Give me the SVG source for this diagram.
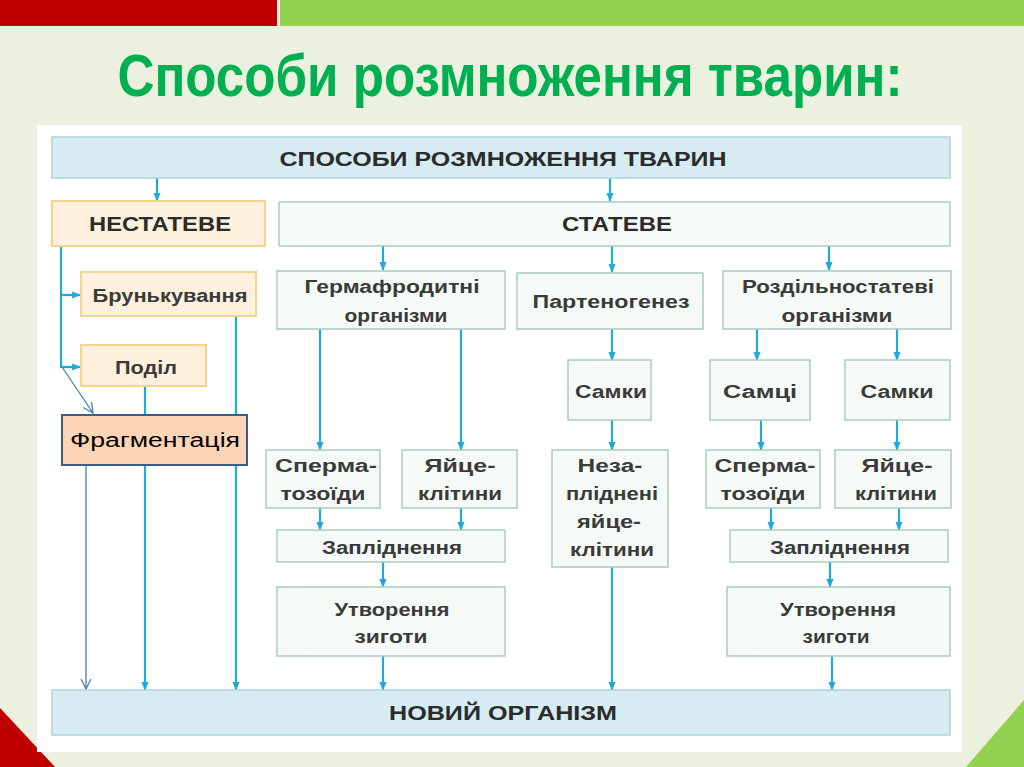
<svg xmlns="http://www.w3.org/2000/svg" width="1024" height="767" viewBox="0 0 1024 767">
<defs>
<marker id="ah" viewBox="0 0 10 10" refX="9" refY="5" markerWidth="4" markerHeight="4" orient="auto" markerUnits="strokeWidth">
<path d="M0,1 L10,5 L0,9 z" fill="#1fa9dc"/>
</marker>
<marker id="oa" viewBox="0 0 12 12" refX="11" refY="6" markerWidth="12" markerHeight="12" orient="auto" markerUnits="userSpaceOnUse">
<path d="M1,1 L11,6 L1,11" fill="none" stroke="#4a7ebb" stroke-width="1.3"/>
</marker>
<style>
.bl{fill:#d6ebf2;stroke:#aed3dd;stroke-width:1.5}
.pe{fill:#fdf1dd;stroke:#f4d38c;stroke-width:2}
.gr{fill:#f5faf6;stroke:#a9cbbd;stroke-width:1.5}
.t{font-family:"Liberation Sans",Arial,sans-serif;font-weight:bold;font-size:18px;fill:#3a3a3a;text-anchor:middle}
.h{font-family:"Liberation Sans",Arial,sans-serif;font-weight:bold;font-size:20px;fill:#2b2b2b;text-anchor:middle}
.c{stroke:#1fa9dc;stroke-width:2.2;fill:none;marker-end:url(#ah)}
.c0{stroke:#1fa9dc;stroke-width:2.2;fill:none}
.tc{stroke:#4a7ebb;stroke-width:1.3;fill:none;marker-end:url(#oa)}
</style>
</defs>
<rect x="0" y="0" width="1024" height="767" fill="#ebf1de"/>
<rect x="0" y="0" width="277" height="26" fill="#c00000"/>
<rect x="280" y="0" width="744" height="26" fill="#92d050"/>
<polygon points="0,708 0,767 55,767" fill="#c00000"/>
<polygon points="966,767 1024,700 1024,767" fill="#92d050"/>
<text x="510" y="96" font-family="'Liberation Sans',Arial,sans-serif" font-weight="bold" font-size="60" fill="#00b050" text-anchor="middle" textLength="785" lengthAdjust="spacingAndGlyphs">Способи розмноження тварин:</text>
<rect x="37" y="125" width="925" height="627" fill="#ffffff"/>

<g id="connectors">
<line class="c" x1="157" y1="178" x2="157" y2="201"/>
<line class="c" x1="610" y1="178" x2="610" y2="201"/>
<line class="c0" x1="61" y1="246" x2="61" y2="368"/>
<line class="c" x1="61" y1="295" x2="80" y2="295"/>
<line class="c" x1="61" y1="367" x2="80" y2="367"/>
<line class="tc" x1="62" y1="367" x2="93" y2="413"/>
<line class="tc" x1="86" y1="465" x2="86" y2="689"/>
<line class="c" x1="145" y1="386" x2="145" y2="690"/>
<line class="c" x1="236" y1="316" x2="236" y2="690"/>
<line class="c" x1="383" y1="246" x2="383" y2="270"/>
<line class="c" x1="612" y1="246" x2="612" y2="272"/>
<line class="c" x1="829" y1="246" x2="829" y2="270"/>
<line class="c" x1="320" y1="329" x2="320" y2="450"/>
<line class="c" x1="461" y1="329" x2="461" y2="450"/>
<line class="c" x1="320" y1="508" x2="320" y2="530"/>
<line class="c" x1="461" y1="508" x2="461" y2="530"/>
<line class="c" x1="383" y1="562" x2="383" y2="587"/>
<line class="c" x1="383" y1="656" x2="383" y2="690"/>
<line class="c" x1="612" y1="329" x2="612" y2="360"/>
<line class="c" x1="612" y1="420" x2="612" y2="450"/>
<line class="c" x1="612" y1="567" x2="612" y2="690"/>
<line class="c" x1="757" y1="329" x2="757" y2="360"/>
<line class="c" x1="897" y1="329" x2="897" y2="360"/>
<line class="c" x1="761" y1="420" x2="761" y2="450"/>
<line class="c" x1="897" y1="420" x2="897" y2="450"/>
<line class="c" x1="771" y1="508" x2="771" y2="530"/>
<line class="c" x1="899" y1="508" x2="899" y2="530"/>
<line class="c" x1="830" y1="562" x2="830" y2="587"/>
<line class="c" x1="832" y1="656" x2="832" y2="690"/>
</g>

<g id="n-top"><rect class="bl" x="52" y="137" width="898" height="41"/><text class="h" x="503" y="166" textLength="447" lengthAdjust="spacingAndGlyphs">СПОСОБИ РОЗМНОЖЕННЯ ТВАРИН</text></g>
<g id="n-nestateve"><rect class="pe" x="52" y="201" width="213" height="45"/><text class="h" x="160" y="231" textLength="142" lengthAdjust="spacingAndGlyphs">НЕСТАТЕВЕ</text></g>
<g id="n-stateve"><rect class="gr" x="279" y="202" width="671" height="44"/><text class="h" x="617" y="231" textLength="110" lengthAdjust="spacingAndGlyphs">СТАТЕВЕ</text></g>
<g id="n-brunk"><rect class="pe" x="81" y="272" width="175" height="44"/><text class="t" x="170" y="302" textLength="155" lengthAdjust="spacingAndGlyphs">Брунькування</text></g>
<g id="n-podil"><rect class="pe" x="81" y="345" width="125" height="41"/><text class="t" x="146" y="374" textLength="62" lengthAdjust="spacingAndGlyphs">Поділ</text></g>
<g id="n-frag"><rect x="62" y="415" width="185" height="50" fill="#fbd5b5" stroke="#385d8a" stroke-width="2"/><text x="155" y="447" font-family="'Liberation Sans',Arial,sans-serif" font-weight="normal" font-size="20" fill="#000" text-anchor="middle" textLength="170" lengthAdjust="spacingAndGlyphs">Фрагментація</text></g>

<g id="n-herm"><rect class="gr" x="277" y="271" width="228" height="58"/><text class="t" x="392" y="293" textLength="175" lengthAdjust="spacingAndGlyphs">Гермафродитні</text><text class="t" x="396" y="322" textLength="103" lengthAdjust="spacingAndGlyphs">організми</text></g>
<g id="n-parth"><rect class="gr" x="517" y="273" width="186" height="56"/><text class="t" x="611" y="308" textLength="157" lengthAdjust="spacingAndGlyphs">Партеногенез</text></g>
<g id="n-rozd"><rect class="gr" x="723" y="271" width="228" height="58"/><text class="t" x="838" y="293" textLength="192" lengthAdjust="spacingAndGlyphs">Роздільностатеві</text><text class="t" x="837" y="322" textLength="111" lengthAdjust="spacingAndGlyphs">організми</text></g>

<g id="n-sperm1"><rect class="gr" x="266" y="450" width="114" height="58"/><text class="t" x="326" y="472" textLength="102" lengthAdjust="spacingAndGlyphs">Сперма-</text><text class="t" x="323" y="500" textLength="85" lengthAdjust="spacingAndGlyphs">тозоїди</text></g>
<g id="n-egg1"><rect class="gr" x="402" y="450" width="115" height="58"/><text class="t" x="460" y="472" textLength="71" lengthAdjust="spacingAndGlyphs">Яйце-</text><text class="t" x="460" y="500" textLength="84" lengthAdjust="spacingAndGlyphs">клітини</text></g>
<g id="n-zapl1"><rect class="gr" x="277" y="530" width="228" height="32"/><text class="t" x="392" y="554" textLength="140" lengthAdjust="spacingAndGlyphs">Запліднення</text></g>
<g id="n-zyg1"><rect class="gr" x="277" y="587" width="228" height="69"/><text class="t" x="392" y="616" textLength="115" lengthAdjust="spacingAndGlyphs">Утворення</text><text class="t" x="391" y="643" textLength="73" lengthAdjust="spacingAndGlyphs">зиготи</text></g>

<g id="n-samky1"><rect class="gr" x="568" y="360" width="83" height="60"/><text class="t" x="611" y="398" textLength="72" lengthAdjust="spacingAndGlyphs">Самки</text></g>
<g id="n-nezapl"><rect class="gr" x="552" y="450" width="116" height="117"/><text class="t" x="610" y="472" textLength="65" lengthAdjust="spacingAndGlyphs">Неза-</text><text class="t" x="612" y="500" textLength="92" lengthAdjust="spacingAndGlyphs">пліднені</text><text class="t" x="609" y="528" textLength="64" lengthAdjust="spacingAndGlyphs">яйце-</text><text class="t" x="612" y="556" textLength="84" lengthAdjust="spacingAndGlyphs">клітини</text></g>

<g id="n-samci"><rect class="gr" x="710" y="360" width="100" height="60"/><text class="t" x="760" y="398" textLength="74" lengthAdjust="spacingAndGlyphs">Самці</text></g>
<g id="n-samky2"><rect class="gr" x="845" y="360" width="105" height="60"/><text class="t" x="897" y="398" textLength="73" lengthAdjust="spacingAndGlyphs">Самки</text></g>
<g id="n-sperm2"><rect class="gr" x="706" y="450" width="114" height="58"/><text class="t" x="765" y="472" textLength="101" lengthAdjust="spacingAndGlyphs">Сперма-</text><text class="t" x="763" y="500" textLength="85" lengthAdjust="spacingAndGlyphs">тозоїди</text></g>
<g id="n-egg2"><rect class="gr" x="835" y="450" width="116" height="58"/><text class="t" x="897" y="472" textLength="71" lengthAdjust="spacingAndGlyphs">Яйце-</text><text class="t" x="896" y="500" textLength="82" lengthAdjust="spacingAndGlyphs">клітини</text></g>
<g id="n-zapl2"><rect class="gr" x="730" y="530" width="218" height="32"/><text class="t" x="840" y="554" textLength="140" lengthAdjust="spacingAndGlyphs">Запліднення</text></g>
<g id="n-zyg2"><rect class="gr" x="727" y="587" width="223" height="69"/><text class="t" x="838" y="616" textLength="116" lengthAdjust="spacingAndGlyphs">Утворення</text><text class="t" x="836" y="643" textLength="67" lengthAdjust="spacingAndGlyphs">зиготи</text></g>

<g id="n-novyi"><rect class="bl" x="52" y="690" width="898" height="45"/><text class="h" x="503" y="720" textLength="228" lengthAdjust="spacingAndGlyphs">НОВИЙ ОРГАНІЗМ</text></g>
</svg>
